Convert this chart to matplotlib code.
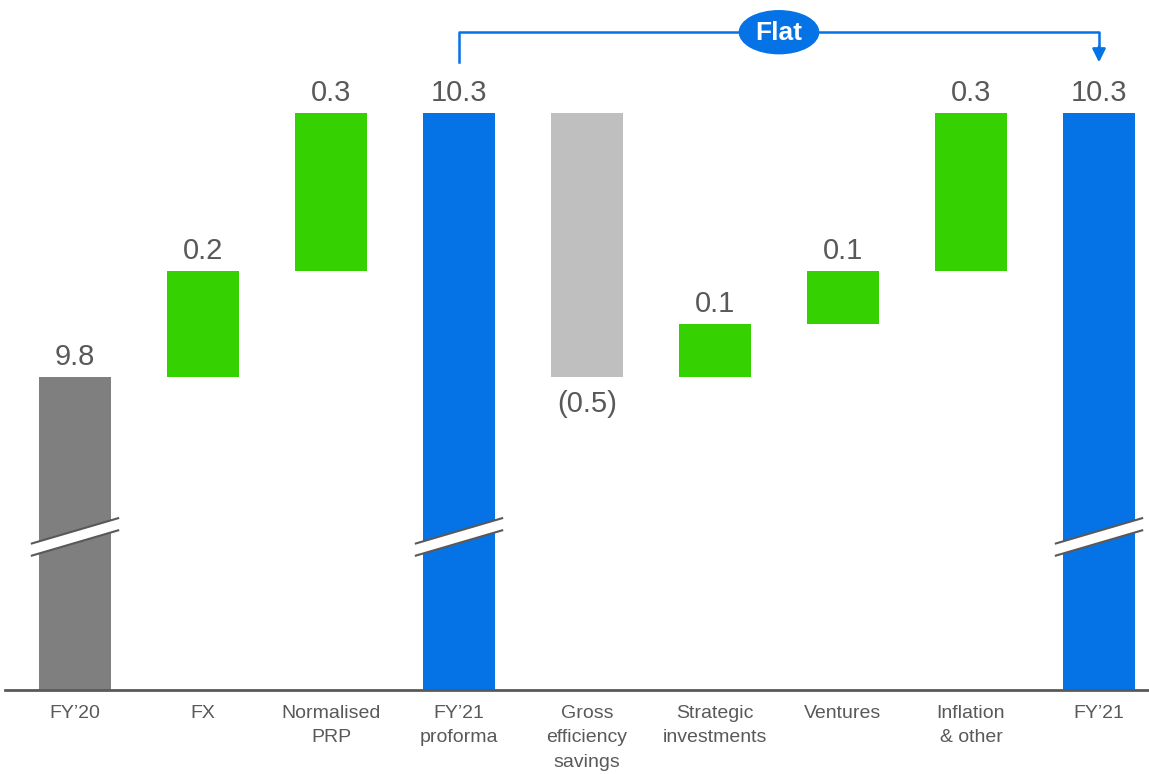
import matplotlib

matplotlib.use("Agg")
import matplotlib.pyplot as plt
from matplotlib.patches import Ellipse, Polygon

plt.rcParams["font.family"] = ["Liberation Sans", "DejaVu Sans"]

# ── data ────────────────────────────────────────────────────────────────
categories = [
    "FY\u201920", "FX", "Normalised\nPRP", "FY\u201921\nproforma",
    "Gross\nefficiency\nsavings", "Strategic\ninvestments", "Ventures",
    "Inflation\n& other", "FY\u201921",
]
values = [9.8, 0.2, 0.3, 10.3, -0.5, 0.1, 0.1, 0.3, 10.3]
labels = ["9.8", "0.2", "0.3", "10.3", "(0.5)", "0.1", "0.1", "0.3", "10.3"]
is_total = [True, False, False, True, False, False, False, False, True]
flat_text = "Flat"

GREY_DARK = "#7f7f7f"
BLUE = "#0573e6"
GREEN = "#36d100"
GREY_LIGHT = "#bfbfbf"
TEXT = "#595959"

y_floor = 9.207       # visible bottom of the broken axis
y_top = 10.514
break_level = 9.497

# bar bottoms / heights for the waterfall
bottoms, heights, colors = [], [], []
running = 0.0
for i, (v, tot) in enumerate(zip(values, is_total)):
    if tot:
        bottoms.append(y_floor)
        heights.append(v - y_floor)
        colors.append(GREY_DARK if i == 0 else BLUE)
        running = v
    else:
        start = running
        running = running + v
        bottoms.append(min(start, running))
        heights.append(abs(v))
        colors.append(GREEN if v > 0 else GREY_LIGHT)

fig = plt.figure(figsize=(11.49, 7.74), dpi=100)
ax = fig.add_axes([5 / 1149, 1 - 690 / 774, 1144 / 1149, 690 / 774])

x = list(range(len(categories)))
width = 0.56
ax.bar(x, heights, bottom=bottoms, width=width, color=colors, zorder=2)

# value labels
for xi, b, h, v, lab in zip(x, bottoms, heights, values, labels):
    if v >= 0:
        ax.text(xi, b + h + 0.012, lab, ha="center", va="bottom",
                fontsize=21, color=TEXT)
    else:
        ax.text(xi, b - 0.024, lab, ha="center", va="top",
                fontsize=21, color=TEXT)

# axis break marks on the total bars
dx = 0.69 / 2
dy = 0.049 / 2
gap = 0.023
for xi, tot in zip(x, is_total):
    if not tot:
        continue
    lo = [(xi - dx, break_level - dy - gap / 2), (xi + dx, break_level + dy - gap / 2)]
    hi = [(xi - dx, break_level - dy + gap / 2), (xi + dx, break_level + dy + gap / 2)]
    ax.add_patch(Polygon(lo + hi[::-1], closed=True, facecolor="white",
                         edgecolor="none", zorder=3))
    for seg in (lo, hi):
        ax.plot([p[0] for p in seg], [p[1] for p in seg], color="#595959",
                lw=1.5, zorder=4, solid_capstyle="butt")

# "Flat" bracket between FY'21 proforma and FY'21
x0, x1 = 3, 8
y_line = 10.453
y_end = 10.396
ax.plot([x0, x0, x1, x1], [y_end, y_line, y_line, y_end + 0.02],
        color=BLUE, lw=1.8, zorder=3, clip_on=False)
ax.annotate("", xy=(x1, y_end), xytext=(x1, y_end + 0.03),
            arrowprops=dict(arrowstyle="-|>,head_length=0.8,head_width=0.4",
                            color=BLUE, lw=1.8, shrinkA=0, shrinkB=0),
            annotation_clip=False)
xm = (x0 + x1) / 2
ax.add_patch(Ellipse((xm, y_line), 0.63, 0.084, facecolor=BLUE,
                     edgecolor="none", zorder=5, clip_on=False))
ax.text(xm, y_line - 0.002, flat_text, ha="center", va="center", fontsize=19,
        fontweight="bold", color="white", zorder=6)

ax.set_xlim((5 - 75) / 128, (1149 - 75) / 128)
ax.set_ylim(y_floor, y_top)
ax.set_xticks(x)
ax.set_xticklabels(categories, fontsize=14, color=TEXT, linespacing=1.55)
ax.tick_params(axis="x", length=0, pad=11)
ax.set_yticks([])
for side in ("top", "right", "left"):
    ax.spines[side].set_visible(False)
ax.spines["bottom"].set_color("#595959")
ax.spines["bottom"].set_linewidth(2)

fig.savefig("out.png", dpi=100)
